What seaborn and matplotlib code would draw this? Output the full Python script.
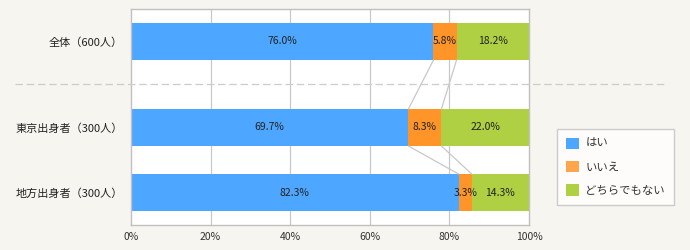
import matplotlib
matplotlib.use("Agg")
import matplotlib.pyplot as plt
import seaborn as sns
import pandas as pd
import numpy as np
from matplotlib.patches import Patch

categories = ["全体（600人）", "東京出身者（300人）", "地方出身者（300人）"]
series_names = ["はい", "いいえ", "どちらでもない"]
yes_vals = [76.0, 69.7, 82.3]
no_vals = [5.8, 8.3, 3.3]
neutral_vals = [18.2, 22.0, 14.3]
x_ticks = [0, 20, 40, 60, 80, 100]
x_tick_labels = ["0%", "20%", "40%", "60%", "80%", "100%"]

# layout (row centres in axis units, axis spans 0..216)
row_pos = [32.5, 118.5, 183.5]
bar_h = 37.0

bar_colors = ["#4da6ff", "#ff9428", "#b0d044"]
legend_colors = ["#4da6ff", "#ffa64d", "#b0d044"]

sns.set_theme(style="white")
plt.rcParams["font.family"] = ["Noto Sans CJK JP", "DejaVu Sans"]

fig = plt.figure(figsize=(6.9, 2.5), dpi=100)
fig.patch.set_facecolor("#f6f5ef")
ax = fig.add_axes([131 / 690, 25 / 250, 398 / 690, 216 / 250])
ax.set_facecolor("white")

yes = np.array(yes_vals)
no = np.array(no_vals)
neu = np.array(neutral_vals)
cum1 = yes
cum2 = yes + no
cum3 = yes + no + neu

df = pd.DataFrame({"pos": row_pos, "c1": cum1, "c2": cum2, "c3": cum3})
width = bar_h / min(np.diff(sorted(row_pos)))
for col, color in [("c3", bar_colors[2]), ("c2", bar_colors[1]), ("c1", bar_colors[0])]:
    sns.barplot(data=df, x=col, y="pos", orient="h", native_scale=True,
                color=color, saturation=1, width=width, linewidth=0, ax=ax, zorder=2)

ax.set_xlim(0, 100)
ax.set_ylim(216, 0)
ax.set_xticks(x_ticks)
ax.set_xticklabels(x_tick_labels, fontsize=7.5, color="#333333")
ax.set_yticks(row_pos)
ax.set_yticklabels(categories, fontsize=8, color="#222222")
ax.tick_params(axis="both", length=0, pad=5)
ax.tick_params(axis="y", pad=6)
ax.set_xlabel("")
ax.set_ylabel("")
for x in x_ticks[1:-1]:
    ax.axvline(x, color="#c8c8c8", lw=0.9, zorder=1)
for s in ax.spines.values():
    s.set_color("#c0c0c0")
    s.set_linewidth(1)

# connector lines between rows
for i in range(len(row_pos) - 1):
    y0 = row_pos[i] + bar_h / 2
    y1 = row_pos[i + 1] - bar_h / 2
    for a, b in [(cum1[i], cum1[i + 1]), (cum2[i], cum2[i + 1])]:
        ax.plot([a, b], [y0, y1], color="#c8c8c8", lw=0.9, zorder=3)

# value labels
for i, y in enumerate(row_pos):
    starts = [0, cum1[i], cum2[i]]
    vals = [yes[i], no[i], neu[i]]
    for s, v in zip(starts, vals):
        ax.text(s + v / 2, y, f"{v:.1f}%", ha="center", va="center",
                fontsize=7.5, color="#222222", zorder=4)

# dashed separator across figure
fig.add_artist(plt.Line2D([15 / 690, 665 / 690], [1 - 84 / 250, 1 - 84 / 250],
                          color="#cccccc", lw=0.9, ls=(0, (6, 3))))

handles = [Patch(facecolor=c, edgecolor="none") for c in legend_colors]
leg = fig.legend(handles, series_names, loc="upper left",
                 bbox_to_anchor=(557 / 690, 1 - 129 / 250), borderaxespad=0,
                 frameon=True, fancybox=False, fontsize=8.2,
                 handlelength=1.15, handleheight=1.15,
                 handletextpad=0.6, labelspacing=1.05, borderpad=0.75,
                 labelcolor="#333333")
leg.get_frame().set_edgecolor("#c0c0c0")
leg.get_frame().set_facecolor("white")
leg.get_frame().set_linewidth(1)

fig.savefig("out.png", dpi=100, facecolor=fig.get_facecolor())
